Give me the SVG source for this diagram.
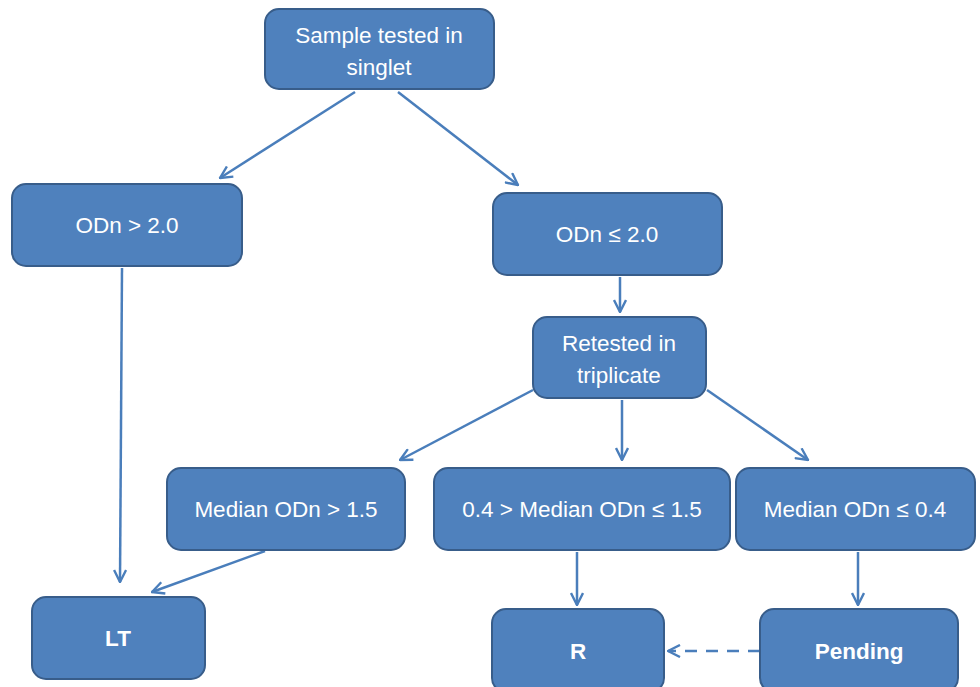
<svg xmlns="http://www.w3.org/2000/svg" width="980" height="687" viewBox="0 0 980 687">
<style>
.box{fill:#4F81BD;stroke:#385D8A;stroke-width:2}
.t{fill:#fff;font-family:"Liberation Sans",Arial,sans-serif;font-size:22.5px;text-anchor:middle}
.b{font-weight:bold}
.c{stroke:#4A7EBB;stroke-width:2.5;fill:none;marker-end:url(#ah)}
</style>
<defs>
<marker id="ah" viewBox="0 0 14 14" refX="13" refY="7" markerWidth="14" markerHeight="14" markerUnits="userSpaceOnUse" orient="auto">
<path d="M1,1 L13,7 L1,13" fill="none" stroke="#4A7EBB" stroke-width="2.4"/>
</marker>
</defs>
<rect width="980" height="687" fill="#fff"/>
<g id="connectors">
<line class="c" x1="355" y1="92" x2="220" y2="178"/>
<line class="c" x1="398" y1="92" x2="518" y2="185"/>
<line class="c" x1="122" y1="268" x2="120" y2="582"/>
<line class="c" x1="620" y1="277" x2="620" y2="312"/>
<line class="c" x1="533" y1="390" x2="400" y2="460"/>
<line class="c" x1="622" y1="400" x2="622" y2="460"/>
<line class="c" x1="707" y1="390" x2="808" y2="460"/>
<line class="c" x1="265" y1="551" x2="152" y2="592"/>
<line class="c" x1="577" y1="552" x2="577" y2="605"/>
<line class="c" x1="858" y1="552" x2="858" y2="605"/>
<line class="c" x1="760" y1="651" x2="668" y2="651" stroke-dasharray="12,9"/>
</g>
<g id="n1"><rect class="box" x="265" y="9" width="229" height="80" rx="14"/>
<text class="t" x="379" y="43">Sample tested in</text><text class="t" x="379" y="75">singlet</text></g>
<g id="n2"><rect class="box" x="12" y="184" width="230" height="82" rx="14"/>
<text class="t" x="127" y="233">ODn &gt; 2.0</text></g>
<g id="n3"><rect class="box" x="493" y="193" width="229" height="82" rx="14"/>
<text class="t" x="607" y="242">ODn ≤ 2.0</text></g>
<g id="n4"><rect class="box" x="533" y="317" width="173" height="81" rx="14"/>
<text class="t" x="619" y="351">Retested in</text><text class="t" x="619" y="383">triplicate</text></g>
<g id="n5"><rect class="box" x="167" y="468" width="238" height="82" rx="14"/>
<text class="t" x="286" y="517">Median ODn &gt; 1.5</text></g>
<g id="n6"><rect class="box" x="434" y="468" width="296" height="82" rx="14"/>
<text class="t" x="582" y="517">0.4 &gt; Median ODn ≤ 1.5</text></g>
<g id="n7"><rect class="box" x="736" y="468" width="239" height="82" rx="14"/>
<text class="t" x="855" y="517">Median ODn ≤ 0.4</text></g>
<g id="n8"><rect class="box" x="32" y="597" width="173" height="82" rx="14"/>
<text class="t b" x="118" y="646">LT</text></g>
<g id="n9"><rect class="box" x="492" y="609" width="172" height="83" rx="14"/>
<text class="t b" x="578" y="659">R</text></g>
<g id="n10"><rect class="box" x="760" y="609" width="198" height="83" rx="14"/>
<text class="t b" x="859" y="659">Pending</text></g>
</svg>
